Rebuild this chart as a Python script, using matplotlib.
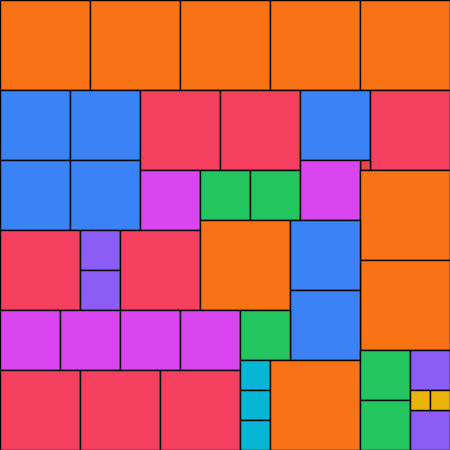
import matplotlib as mpl
mpl.use('Agg')
import matplotlib.pyplot as plt
from matplotlib.patches import Rectangle

# square packing: left, top, side, group
xs = [0, 90, 180, 270, 360,
      0, 70, 0, 70, 140, 220, 300, 370, 360,
      140, 200, 250, 300, 360, 360,
      0, 80, 80, 120, 200, 290, 290,
      0, 60, 120, 180, 240,
      0, 80, 160, 240, 240, 240, 270,
      360, 360, 410, 410, 410, 430]
ys = [0, 0, 0, 0, 0,
      90, 90, 160, 160, 90, 90, 90, 90, 160,
      170, 170, 170, 160, 170, 260,
      230, 230, 270, 230, 220, 220, 290,
      310, 310, 310, 310, 310,
      370, 370, 370, 360, 390, 420, 360,
      350, 400, 350, 410, 390, 390]
sides = [90, 90, 90, 90, 90,
         70, 70, 70, 70, 80, 80, 70, 80, 10,
         60, 50, 50, 60, 90, 90,
         80, 40, 40, 80, 90, 70, 70,
         60, 60, 60, 60, 50,
         80, 80, 80, 30, 30, 30, 90,
         50, 50, 40, 40, 20, 20]
groups = ['o'] * 5 + \
         ['b', 'b', 'b', 'b', 'r', 'r', 'b', 'r', 'x'] + \
         ['m', 'g', 'g', 'm', 'o', 'o'] + \
         ['r', 'p', 'p', 'r', 'o', 'b', 'b'] + \
         ['m', 'm', 'm', 'm', 'g'] + \
         ['r', 'r', 'r', 'c', 'c', 'c', 'o'] + \
         ['g', 'g', 'p', 'p', 'y', 'y']

colors = {'o': '#f97316', 'b': '#3b82f6', 'r': '#f43f5e', 'm': '#d946ef',
          'g': '#22c55e', 'p': '#8b5cf6', 'c': '#06b6d4', 'y': '#eab308',
          'x': '#ef4444'}

fig = plt.figure(figsize=(4.5, 4.5), dpi=100)
ax = fig.add_axes([0, 0, 1, 1])
for x, y, s, g in zip(xs, ys, sides, groups):
    ax.add_patch(Rectangle((x, y), s, s, facecolor=colors[g],
                           edgecolor='black', linewidth=1))
ax.set_xlim(0, 450)
ax.set_ylim(450, 0)
ax.axis('off')

plt.savefig('out.png', dpi=100)
